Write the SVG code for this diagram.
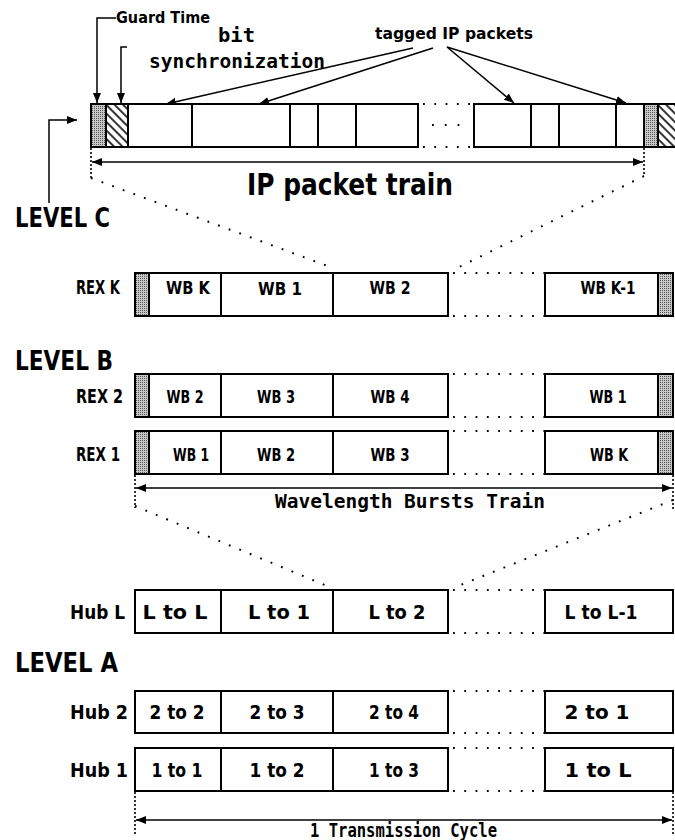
<svg xmlns="http://www.w3.org/2000/svg" width="675" height="840" viewBox="0 0 675 840">
<defs>
<pattern id="gray" width="2" height="2" patternUnits="userSpaceOnUse"><rect width="2" height="2" fill="#c8c8c8"/><rect width="1" height="1" fill="#555"/></pattern>
<pattern id="hatch" width="6" height="6" patternUnits="userSpaceOnUse" patternTransform="rotate(-45)"><rect width="6" height="6" fill="#fff"/><line x1="1" y1="0" x2="1" y2="6" stroke="#000" stroke-width="1.6"/></pattern>
<marker id="ah" viewBox="0 0 10 8" refX="10" refY="4" markerWidth="10" markerHeight="8" markerUnits="userSpaceOnUse" orient="auto-start-reverse"><path d="M0,0 L10,4 L0,8 z" fill="#000"/></marker>
</defs>
<style>
.box{fill:#fff;stroke:#000;stroke-width:2}
.g{fill:url(#gray);stroke:#000;stroke-width:2}
.h{fill:url(#hatch);stroke:#000;stroke-width:2}
.dot{stroke:#000;stroke-width:2;stroke-dasharray:1.8 9.5;fill:none}
.vdot{stroke:#000;stroke-width:1.6;stroke-dasharray:2 2;fill:none}
.arr{stroke:#000;stroke-width:1.5;fill:none}
text{font-family:"DejaVu Sans","Liberation Sans",sans-serif;font-weight:bold;fill:#000}
.lvl{font-size:27px}
.rex{font-size:19px}
.wb{font-size:18px;text-anchor:middle}
.hub{font-size:19px}
.cell{font-size:19px;text-anchor:middle}
.sm{font-size:16px}
.mono{font-family:"DejaVu Sans Mono","Liberation Mono",monospace;font-size:19px}
</style>

<g id="connectors">
  <path class="arr" d="M116,18 H97 V103" marker-end="url(#ah)"/>
  <path class="arr" d="M127,47 H121 V103" marker-end="url(#ah)"/>
  <line class="arr" x1="413" y1="48" x2="166" y2="104" marker-end="url(#ah)"/>
  <line class="arr" x1="433" y1="48" x2="259" y2="104" marker-end="url(#ah)"/>
  <line class="arr" x1="447" y1="47" x2="514" y2="103" marker-end="url(#ah)"/>
  <line class="arr" x1="447" y1="47" x2="626" y2="103" marker-end="url(#ah)"/>
  <path class="arr" d="M49,203 V120 H77" marker-end="url(#ah)"/>
  <line class="arr" x1="92" y1="162" x2="643" y2="162" marker-start="url(#ah)" marker-end="url(#ah)"/>
  <line class="vdot" x1="91" y1="148" x2="91" y2="178"/>
  <line class="vdot" x1="644" y1="148" x2="644" y2="176"/>
  <line class="dot" x1="91" y1="178" x2="333" y2="268"/>
  <line class="dot" x1="644" y1="176" x2="453" y2="270"/>
  <line class="arr" x1="136" y1="488" x2="672" y2="488" marker-start="url(#ah)" marker-end="url(#ah)"/>
  <line class="vdot" x1="135" y1="475" x2="135" y2="508"/>
  <line class="vdot" x1="673" y1="475" x2="673" y2="510"/>
  <line class="dot" x1="135" y1="506" x2="332" y2="588"/>
  <line class="dot" x1="673" y1="500" x2="453" y2="588"/>
  <line class="arr" x1="136" y1="820" x2="672" y2="820" marker-start="url(#ah)" marker-end="url(#ah)"/>
  <line class="vdot" x1="135" y1="792" x2="135" y2="836"/>
  <line class="vdot" x1="673" y1="792" x2="673" y2="836"/>
</g>

<g id="labels-top">
  <text class="sm" x="116" y="23" textLength="94" lengthAdjust="spacingAndGlyphs">Guard Time</text>
  <text class="mono" x="218" y="42" textLength="37" lengthAdjust="spacingAndGlyphs">bit</text>
  <text class="mono" x="149" y="68" textLength="176" lengthAdjust="spacingAndGlyphs">synchronization</text>
  <text class="sm" x="375" y="39" textLength="158" lengthAdjust="spacingAndGlyphs">tagged IP packets</text>
  <text x="247" y="195" font-size="30" textLength="206" lengthAdjust="spacingAndGlyphs">IP packet train</text>
</g>

<g id="ip-train">
  <rect class="g" x="91" y="104" width="15" height="43"/>
  <rect class="h" x="106" y="104" width="22" height="43"/>
  <rect class="box" x="128" y="104" width="64" height="43"/>
  <rect class="box" x="192" y="104" width="98" height="43"/>
  <rect class="box" x="290" y="104" width="28" height="43"/>
  <rect class="box" x="318" y="104" width="38" height="43"/>
  <rect class="box" x="356" y="104" width="62" height="43"/>
  <line class="dot" x1="423" y1="104" x2="474" y2="104"/>
  <line class="dot" x1="423" y1="147" x2="474" y2="147"/>
  <line class="dot" x1="432" y1="125" x2="466" y2="125" style="stroke-dasharray:1.8 11"/>
  <rect class="box" x="474" y="104" width="57" height="43"/>
  <rect class="box" x="531" y="104" width="28" height="43"/>
  <rect class="box" x="559" y="104" width="57" height="43"/>
  <rect class="box" x="616" y="104" width="28" height="43"/>
  <rect class="g" x="644" y="104" width="14" height="43"/>
  <rect class="h" x="658" y="104" width="22" height="43"/>
</g>

<text class="lvl" x="15" y="227" textLength="95" lengthAdjust="spacingAndGlyphs">LEVEL C</text>

<g id="rex-k">
  <text class="rex" x="76" y="294" textLength="44" lengthAdjust="spacingAndGlyphs">REX K</text>
  <rect class="g" x="135" y="273" width="14" height="43"/>
  <rect class="box" x="149" y="273" width="72" height="43"/>
  <rect class="box" x="221" y="273" width="112" height="43"/>
  <rect class="box" x="333" y="273" width="115" height="43"/>
  <line class="dot" x1="453" y1="273" x2="545" y2="273"/>
  <line class="dot" x1="453" y1="316" x2="545" y2="316"/>
  <rect class="box" x="545" y="273" width="113" height="43"/>
  <rect class="g" x="658" y="273" width="15" height="43"/>
  <text class="wb" x="188" y="294" textLength="44" lengthAdjust="spacingAndGlyphs">WB K</text>
  <text class="wb" x="280" y="295" font-size="20" textLength="44" lengthAdjust="spacingAndGlyphs">WB 1</text>
  <text class="wb" x="390" y="294" textLength="41" lengthAdjust="spacingAndGlyphs">WB 2</text>
  <text class="wb" x="608" y="294" textLength="55" lengthAdjust="spacingAndGlyphs">WB K-1</text>
</g>

<text class="lvl" x="15" y="370" textLength="98" lengthAdjust="spacingAndGlyphs">LEVEL B</text>

<g id="rex-2">
  <text class="rex" x="76" y="403" textLength="47" lengthAdjust="spacingAndGlyphs">REX 2</text>
  <rect class="g" x="135" y="374" width="14" height="43"/>
  <rect class="box" x="149" y="374" width="72" height="43"/>
  <rect class="box" x="221" y="374" width="112" height="43"/>
  <rect class="box" x="333" y="374" width="115" height="43"/>
  <line class="dot" x1="453" y1="374" x2="545" y2="374"/>
  <line class="dot" x1="453" y1="417" x2="545" y2="417"/>
  <rect class="box" x="545" y="374" width="113" height="43"/>
  <rect class="g" x="658" y="374" width="15" height="43"/>
  <text class="wb" x="185" y="403" textLength="37" lengthAdjust="spacingAndGlyphs">WB 2</text>
  <text class="wb" x="276" y="403" textLength="38" lengthAdjust="spacingAndGlyphs">WB 3</text>
  <text class="wb" x="390" y="403" textLength="39" lengthAdjust="spacingAndGlyphs">WB 4</text>
  <text class="wb" x="608" y="403" textLength="37" lengthAdjust="spacingAndGlyphs">WB 1</text>
</g>

<g id="rex-1">
  <text class="rex" x="76" y="461" textLength="44" lengthAdjust="spacingAndGlyphs">REX 1</text>
  <rect class="g" x="135" y="431" width="14" height="43"/>
  <rect class="box" x="149" y="431" width="72" height="43"/>
  <rect class="box" x="221" y="431" width="112" height="43"/>
  <rect class="box" x="333" y="431" width="115" height="43"/>
  <line class="dot" x1="453" y1="431" x2="545" y2="431"/>
  <line class="dot" x1="453" y1="474" x2="545" y2="474"/>
  <rect class="box" x="545" y="431" width="113" height="43"/>
  <rect class="g" x="658" y="431" width="15" height="43"/>
  <text class="wb" x="191" y="461" textLength="36" lengthAdjust="spacingAndGlyphs">WB 1</text>
  <text class="wb" x="276" y="461" textLength="38" lengthAdjust="spacingAndGlyphs">WB 2</text>
  <text class="wb" x="390" y="461" textLength="39" lengthAdjust="spacingAndGlyphs">WB 3</text>
  <text class="wb" x="609" y="461" textLength="38" lengthAdjust="spacingAndGlyphs">WB K</text>
</g>

<text x="275" y="508" class="mono" font-size="18" textLength="270" lengthAdjust="spacingAndGlyphs">Wavelength Bursts Train</text>

<g id="hub-l">
  <text class="hub" x="70" y="619" textLength="55" lengthAdjust="spacingAndGlyphs">Hub L</text>
  <rect class="box" x="135" y="590" width="86" height="43"/>
  <rect class="box" x="221" y="590" width="112" height="43"/>
  <rect class="box" x="333" y="590" width="115" height="43"/>
  <line class="dot" x1="453" y1="590" x2="545" y2="590"/>
  <line class="dot" x1="453" y1="633" x2="545" y2="633"/>
  <rect class="box" x="545" y="590" width="128" height="43"/>
  <text class="cell" x="175" y="619" textLength="65" lengthAdjust="spacingAndGlyphs">L to L</text>
  <text class="cell" x="279" y="619" textLength="62" lengthAdjust="spacingAndGlyphs">L to 1</text>
  <text class="cell" x="397" y="619" textLength="57" lengthAdjust="spacingAndGlyphs">L to 2</text>
  <text class="cell" x="601" y="619" textLength="73" lengthAdjust="spacingAndGlyphs">L to L-1</text>
</g>

<text class="lvl" x="15" y="672" textLength="103" lengthAdjust="spacingAndGlyphs">LEVEL A</text>

<g id="hub-2">
  <text class="hub" x="70" y="719" textLength="58" lengthAdjust="spacingAndGlyphs">Hub 2</text>
  <rect class="box" x="135" y="691" width="86" height="42"/>
  <rect class="box" x="221" y="691" width="112" height="42"/>
  <rect class="box" x="333" y="691" width="115" height="42"/>
  <line class="dot" x1="453" y1="691" x2="545" y2="691"/>
  <line class="dot" x1="453" y1="733" x2="545" y2="733"/>
  <rect class="box" x="545" y="691" width="128" height="42"/>
  <text class="cell" x="177" y="719" textLength="55" lengthAdjust="spacingAndGlyphs">2 to 2</text>
  <text class="cell" x="277" y="719" textLength="55" lengthAdjust="spacingAndGlyphs">2 to 3</text>
  <text class="cell" x="394" y="719" textLength="50" lengthAdjust="spacingAndGlyphs">2 to 4</text>
  <text class="cell" x="597" y="719" textLength="65" lengthAdjust="spacingAndGlyphs">2 to 1</text>
</g>

<g id="hub-1">
  <text class="hub" x="70" y="777" textLength="58" lengthAdjust="spacingAndGlyphs">Hub 1</text>
  <rect class="box" x="135" y="748" width="86" height="43"/>
  <rect class="box" x="221" y="748" width="112" height="43"/>
  <rect class="box" x="333" y="748" width="115" height="43"/>
  <line class="dot" x1="453" y1="748" x2="545" y2="748"/>
  <line class="dot" x1="453" y1="791" x2="545" y2="791"/>
  <rect class="box" x="545" y="748" width="128" height="43"/>
  <text class="cell" x="177" y="777" textLength="51" lengthAdjust="spacingAndGlyphs">1 to 1</text>
  <text class="cell" x="277" y="777" textLength="55" lengthAdjust="spacingAndGlyphs">1 to 2</text>
  <text class="cell" x="394" y="777" textLength="50" lengthAdjust="spacingAndGlyphs">1 to 3</text>
  <text class="cell" x="598" y="777" textLength="67" lengthAdjust="spacingAndGlyphs">1 to L</text>
</g>

<text x="310" y="837" class="mono" font-size="17" textLength="187" lengthAdjust="spacingAndGlyphs">1 Transmission Cycle</text>
</svg>
